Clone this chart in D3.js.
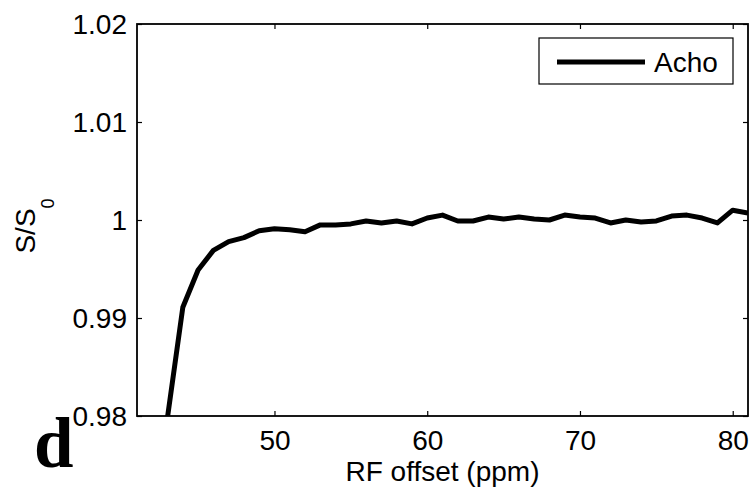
<!DOCTYPE html>
<html>
<head>
<meta charset="utf-8">
<script src="https://cdn.jsdelivr.net/npm/d3@7"></script>
<style>
  body { margin: 0; background: #fff; }
  svg { display: block; font-family: "Liberation Sans", Arial, Helvetica, sans-serif; }
</style>
</head>
<body>
<svg id="chart"></svg>
<script>
// RF offset (ppm) and normalised signal S/S0
const offsets = [43, 44, 45, 46, 47, 48, 49, 50, 51, 52, 53, 54, 55, 56, 57, 58, 59, 60, 61, 62,
                 63, 64, 65, 66, 67, 68, 69, 70, 71, 72, 73, 74, 75, 76, 77, 78, 79, 80, 81];
const signal = [0.9799, 0.9911, 0.9949, 0.9969, 0.9978, 0.9982, 0.9989, 0.9991, 0.9990, 0.9988,
                0.9995, 0.9995, 0.9996, 0.9999, 0.9997, 0.9999, 0.9996, 1.0002, 1.0005, 0.9999,
                0.9999, 1.0003, 1.0001, 1.0003, 1.0001, 1.0000, 1.0005, 1.0003, 1.0002, 0.9997,
                1.0000, 0.9998, 0.9999, 1.0004, 1.0005, 1.0002, 0.9997, 1.0010, 1.0007];
const xTicks = [50, 60, 70, 80];
const yTicks = [0.98, 0.99, 1.00, 1.01, 1.02];
const yTickLabels = ["0.98", "0.99", "1", "1.01", "1.02"];
const seriesName = "Acho";

const width = 753, height = 495;
const margin = { top: 24, right: 5, bottom: 79, left: 137 };
const innerW = width - margin.left - margin.right;
const innerH = height - margin.top - margin.bottom;

const svg = d3.select("#chart").attr("width", width).attr("height", height);

const x = d3.scaleLinear().domain([41, 81]).range([0, innerW]);
const y = d3.scaleLinear().domain([0.98, 1.02]).range([innerH, 0]);

const g = svg.append("g").attr("transform", `translate(${margin.left},${margin.top})`);

svg.append("defs").append("clipPath").attr("id", "plotClip")
    .append("rect").attr("width", innerW).attr("height", innerH);

// data line
const line = d3.line().x((d, i) => x(offsets[i])).y(d => y(d));
g.append("path")
    .datum(signal)
    .attr("clip-path", "url(#plotClip)")
    .attr("fill", "none")
    .attr("stroke", "#000")
    .attr("stroke-width", 5)
    .attr("stroke-linejoin", "round")
    .attr("d", line);

// axes (ticks pointing inwards, matlab style)
const fontSize = 28;
const xAxis = g.append("g").attr("transform", `translate(0,${innerH})`)
    .call(d3.axisBottom(x).tickValues(xTicks).tickSizeInner(-5).tickSizeOuter(0).tickPadding(14));
const xAxisTop = g.append("g")
    .call(d3.axisTop(x).tickValues(xTicks).tickSizeInner(-5).tickSizeOuter(0).tickFormat(""));
const yAxis = g.append("g")
    .call(d3.axisLeft(y).tickValues(yTicks).tickSizeInner(-5).tickSizeOuter(0).tickPadding(10)
        .tickFormat((d, i) => yTickLabels[i]));
const yAxisRight = g.append("g").attr("transform", `translate(${innerW},0)`)
    .call(d3.axisRight(y).tickValues(yTicks).tickSizeInner(-5).tickSizeOuter(0).tickFormat(""));

[xAxis, xAxisTop, yAxis, yAxisRight].forEach(a => {
    a.select(".domain").remove();
    a.selectAll("line").attr("stroke", "#000").attr("stroke-width", 1.2);
    a.selectAll("text").attr("fill", "#000").style("font-size", fontSize + "px")
        .style("font-family", "'Liberation Sans', Arial, Helvetica, sans-serif");
});
yAxis.selectAll("text").attr("dy", "0.35em");

// box
g.append("rect")
    .attr("width", innerW).attr("height", innerH)
    .attr("fill", "none").attr("stroke", "#000").attr("stroke-width", 1.8);

// axis labels
svg.append("text")
    .attr("x", margin.left + innerW / 2 + 0).attr("y", 481)
    .attr("text-anchor", "middle")
    .style("font-size", fontSize + "px")
    .text("RF offset (ppm)");

const yl = svg.append("text")
    .attr("transform", `translate(35,${margin.top + y(1.0) + 6}) rotate(-90)`)
    .attr("text-anchor", "middle")
    .style("font-size", fontSize + "px");
yl.append("tspan").text("S/S");
yl.append("tspan").attr("dy", 19).style("font-size", "18px").text("0");

// legend
const lg = svg.append("g").attr("transform", "translate(539,38)");
lg.append("rect").attr("width", 194).attr("height", 46)
    .attr("fill", "#fff").attr("stroke", "#000").attr("stroke-width", 1.2);
lg.append("line").attr("x1", 18).attr("x2", 106).attr("y1", 24).attr("y2", 24)
    .attr("stroke", "#000").attr("stroke-width", 5);
lg.append("text").attr("x", 115).attr("y", 34)
    .style("font-size", fontSize + "px").text(seriesName);

// panel letter
svg.append("text")
    .attr("x", 34).attr("y", 467)
    .style("font-family", "'Liberation Serif', 'Times New Roman', serif")
    .style("font-weight", "bold")
    .style("font-size", "71px")
    .text("d");
</script>
</body>
</html>
